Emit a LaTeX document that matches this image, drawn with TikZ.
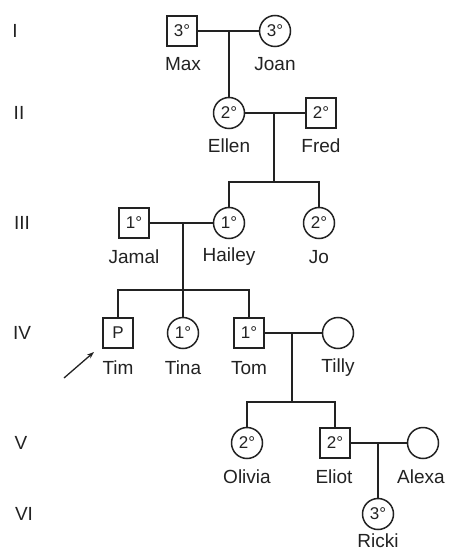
\documentclass[tikz,border=0pt]{standalone}
\usepackage{fontspec}
\setmainfont{Liberation Sans}
\usetikzlibrary{arrows.meta}
\definecolor{ink}{HTML}{222222}
\tikzset{
  sq/.style={draw=ink, line width=1.5pt, minimum size=30pt, inner sep=0pt, font=\fontsize{17}{17}\selectfont, text=ink},
  ci/.style={circle, draw=ink, line width=1.5pt, minimum size=31pt, inner sep=0pt, font=\fontsize{17}{17}\selectfont, text=ink},
  lab/.style={font=\fontsize{19}{19}\selectfont, text=ink, inner sep=0pt},
  gen/.style={font=\fontsize{19}{19}\selectfont, text=ink, inner sep=0pt},
  ln/.style={draw=ink, line width=1.5pt},
}
\begin{document}
\begin{tikzpicture}[x=1pt,y=-1pt]
\useasboundingbox (0,0) rectangle (449,553);
% generation numerals
\node[gen] (gI) at (15,31) {I};
\node[gen] (gII) at (19,113) {II};
\node[gen] (gIII) at (22,223) {III};
\node[gen] (gIV) at (22,333) {IV};
\node[gen] (gV) at (21,443) {V};
\node[gen] (gVI) at (24,514) {VI};
% generation I
\node[sq] (max) at (182,31) {3°};
\node[ci] (joan) at (275,31) {3°};
\node[lab] (tmax) at (183,64) {Max};
\node[lab] (tjoan) at (275,64) {Joan};
% generation II
\node[ci] (ellen) at (229,113) {2°};
\node[sq] (fred) at (321,113) {2°};
\node[lab] (tellen) at (229,146) {Ellen};
\node[lab] (tfred) at (321,146) {Fred};
% generation III
\node[sq] (jamal) at (134,223) {1°};
\node[ci] (hailey) at (229,223) {1°};
\node[ci] (jo) at (319,223) {2°};
\node[lab] (tjamal) at (134,257) {Jamal};
\node[lab] (thailey) at (229,257) {Hailey};
\node[lab] (tjo) at (319,257) {Jo};
% generation IV
\node[sq] (tim) at (118,333) {P};
\node[ci] (tina) at (183,333) {1°};
\node[sq] (tom) at (249,333) {1°};
\node[ci] (tilly) at (338,333) {};
\node[lab] (ttim) at (118,368) {Tim};
\node[lab] (ttina) at (183,368) {Tina};
\node[lab] (ttom) at (249,368) {Tom};
\node[lab] (ttilly) at (338,368) {Tilly};
% generation V
\node[ci] (olivia) at (247,443) {2°};
\node[sq] (eliot) at (335,443) {2°};
\node[ci] (alexa) at (423,443) {};
\node[lab] (tolivia) at (247,477) {Olivia};
\node[lab] (teliot) at (334,477) {Eliot};
\node[lab] (talexa) at (421,477) {Alexa};
% generation VI
\node[ci] (ricki) at (378,514) {3°};
\node[lab] (tricki) at (378,541) {Ricki};
% couples and descent
\draw[ln] (max) -- (joan);
\coordinate (m1) at (229,31);
\draw[ln] (m1) -- (ellen);
\draw[ln] (ellen) -- (fred);
\coordinate (m2) at (274,113);
\coordinate (s2) at (274,182);
\coordinate (s2a) at (229,182);
\coordinate (s2b) at (319,182);
\draw[ln] (m2) -- (s2);
\draw[ln] (hailey.north) -- (s2a) -- (s2b) -- (jo.north);
\draw[ln] (jamal) -- (hailey);
\coordinate (m3) at (183,223);
\coordinate (s3) at (183,290);
\coordinate (s3a) at (118,290);
\coordinate (s3b) at (249,290);
\draw[ln] (m3) -- (tina.north);
\draw[ln] (tim.north) -- (s3a) -- (s3b) -- (tom.north);
\draw[ln] (tom) -- (tilly);
\coordinate (m4) at (292,333);
\coordinate (s4) at (292,402);
\coordinate (s4a) at (247,402);
\coordinate (s4b) at (335,402);
\draw[ln] (m4) -- (s4);
\draw[ln] (olivia.north) -- (s4a) -- (s4b) -- (eliot.north);
\draw[ln] (eliot) -- (alexa);
\coordinate (m5) at (378,443);
\draw[ln] (m5) -- (ricki);
% proband arrow
\coordinate (arrtail) at (64,378);
\coordinate (arrtip) at (94,352);
\draw[draw=ink, line width=1.3pt, -{Stealth[length=7pt,width=5pt]}] (arrtail) -- (arrtip);
\end{tikzpicture}
\end{document}
